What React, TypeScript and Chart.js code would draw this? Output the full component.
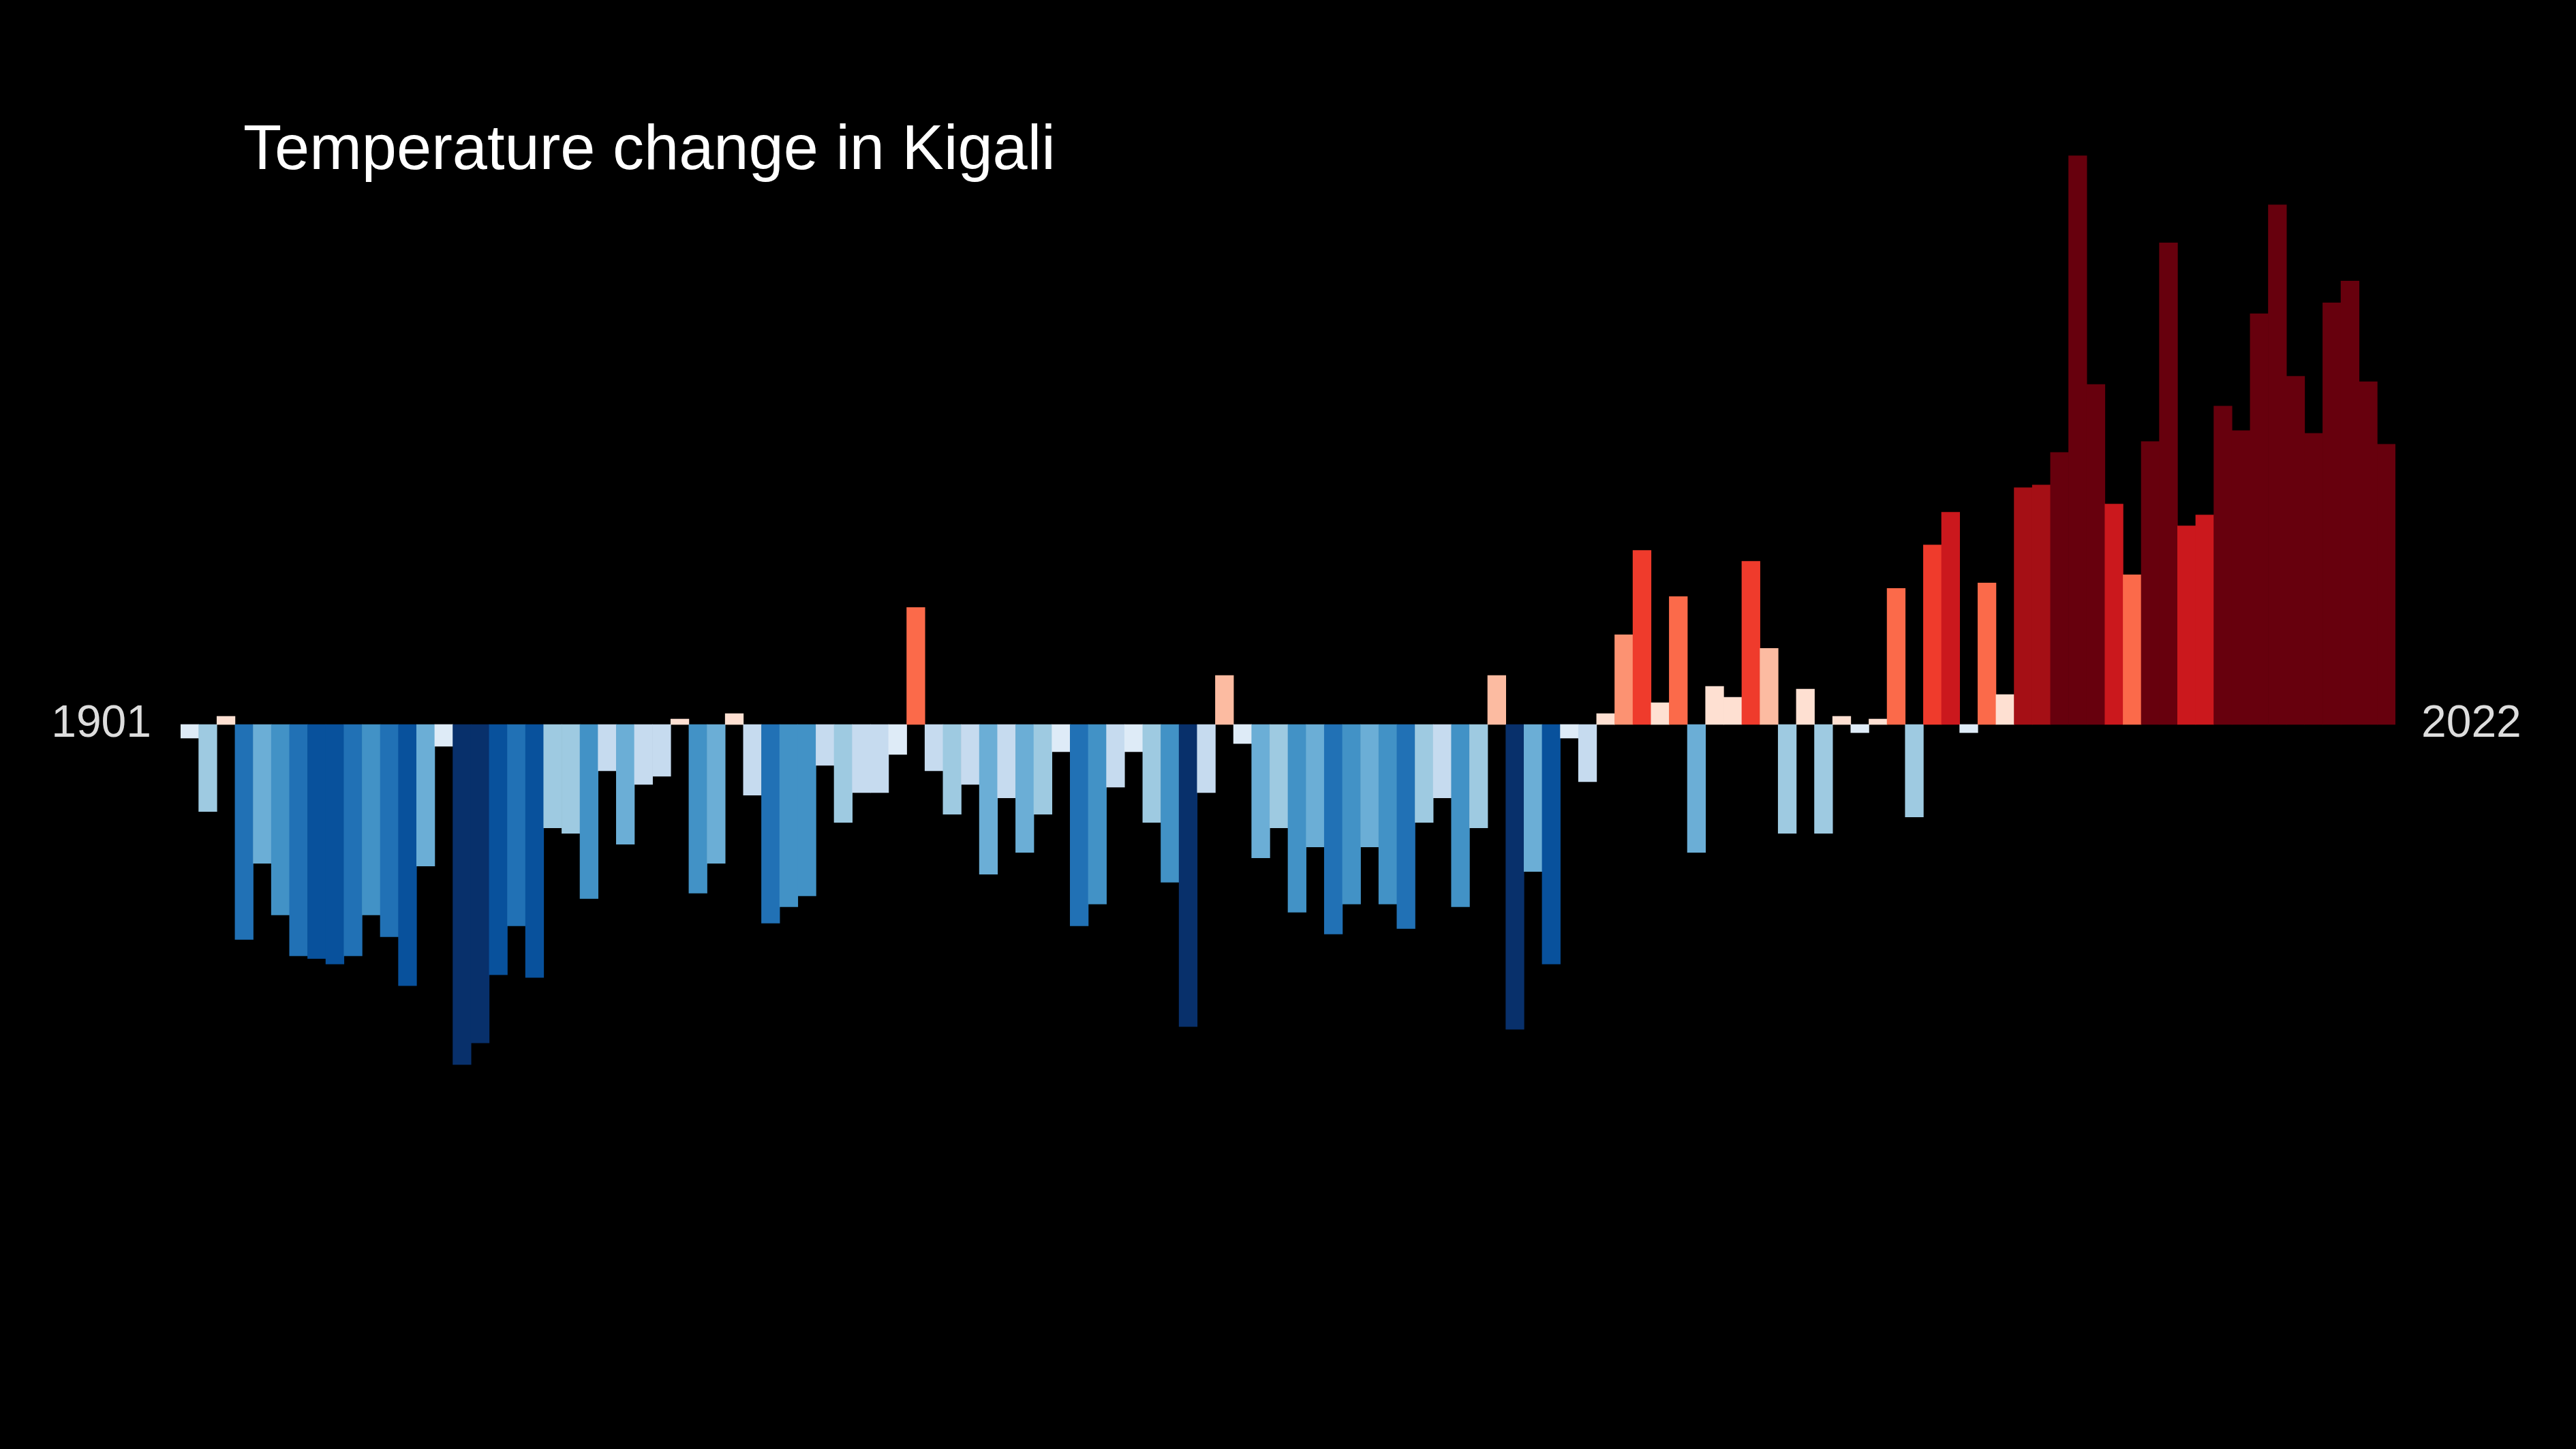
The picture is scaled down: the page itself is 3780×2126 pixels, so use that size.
import React, { useEffect, useRef } from "react";
import { Chart, registerables } from "chart.js";

Chart.register(...registerables);

const firstYear = 1901;
const lastYear = 2022;
const title = "Temperature change in Kigali";

// anomaly per year, °C
const anomalies = [
  -0.05, -0.32, 0.03, -0.79, -0.51, -0.7, -0.85, -0.86, -0.88, -0.85,
  -0.7, -0.78, -0.96, -0.52, -0.08, -1.25, -1.17, -0.92, -0.74, -0.93,
  -0.38, -0.4, -0.64, -0.17, -0.44, -0.22, -0.19, 0.02, -0.62, -0.51,
  0.04, -0.26, -0.73, -0.67, -0.63, -0.15, -0.36, -0.25, -0.25, -0.11,
  0.43, -0.17, -0.33, -0.22, -0.55, -0.27, -0.47, -0.33, -0.1, -0.74,
  -0.66, -0.23, -0.1, -0.36, -0.58, -1.11, -0.25, 0.18, -0.07, -0.49,
  -0.38, -0.69, -0.45, -0.77, -0.66, -0.45, -0.66, -0.75, -0.36, -0.27,
  -0.67, -0.38, 0.18, -1.12, -0.54, -0.88, -0.05, -0.21, 0.04, 0.33,
  0.64, 0.08, 0.47, -0.47, 0.14, 0.1, 0.6, 0.28, -0.4, 0.13,
  -0.4, 0.03, -0.03, 0.02, 0.5, -0.34, 0.66, 0.78, -0.03, 0.52,
  0.11, 0.87, 0.88, 1.0, 2.09, 1.25, 0.81, 0.55, 1.04, 1.77,
  0.73, 0.77, 1.17, 1.08, 1.51, 1.91, 1.28, 1.07, 1.55, 1.63,
  1.26, 1.03,
];

const years: string[] = [];
for (let y = firstYear; y <= lastYear; y++) years.push(String(y));

const blues = ["#08306b", "#08519c", "#2171b5", "#4292c6", "#6baed6", "#9ecae1", "#c6dbef", "#deebf7"];
const reds = ["#fee0d2", "#fcbba1", "#fc9272", "#fb6a4a", "#ef3b2c", "#cb181d", "#a50f15", "#67000d"];
const step = 0.142;

function colourFor(v: number) {
  if (v >= 0) return reds[Math.min(7, Math.floor(v / step))];
  return blues[Math.max(0, 7 - Math.floor(-v / step))];
}

const textPlugin = {
  id: "stripesText",
  beforeDraw(chart: Chart) {
    const { ctx, width, height } = chart;
    ctx.save();
    ctx.fillStyle = "#000";
    ctx.fillRect(0, 0, width, height);
    ctx.restore();
  },
  afterDraw(chart: Chart) {
    const { ctx } = chart;
    const yBase = chart.scales.y.getPixelForValue(0);
    ctx.save();
    ctx.fillStyle = "#fff";
    ctx.font = "92px 'Liberation Sans', Arial, sans-serif";
    ctx.textBaseline = "alphabetic";
    ctx.textAlign = "left";
    ctx.fillText(title, 357, 248);
    ctx.fillStyle = "#dddddd";
    ctx.font = "66px 'Liberation Sans', Arial, sans-serif";
    ctx.textBaseline = "middle";
    ctx.textAlign = "right";
    ctx.fillText(years[0], 222, yBase);
    ctx.textAlign = "left";
    ctx.fillText(years[years.length - 1], 3553, yBase);
    ctx.restore();
  },
};

const App = () => {
  const canvasRef = useRef<HTMLCanvasElement | null>(null);

  useEffect(() => {
    document.body.style.margin = "0";
    document.body.style.background = "#000";
    if (!canvasRef.current) return;
    const chart = new Chart(canvasRef.current, {
      type: "bar",
      data: {
        labels: years,
        datasets: [
          {
            data: anomalies,
            backgroundColor: anomalies.map(colourFor),
            barPercentage: 1,
            categoryPercentage: 1,
            borderWidth: 0,
          },
        ],
      },
      options: {
        animation: false,
        responsive: true,
        maintainAspectRatio: false,
        layout: { padding: { left: 265, right: 265, top: 65, bottom: 65 } },
        plugins: { legend: { display: false }, tooltip: { enabled: false }, title: { display: false } },
        scales: {
          x: { display: false },
          y: { display: false, min: -2.5, max: 2.5 },
        },
      },
      plugins: [textPlugin],
    });
    return () => chart.destroy();
  }, []);

  return (
    <div style={{ width: "100vw", height: "100vh", background: "#000" }}>
      <canvas ref={canvasRef} />
    </div>
  );
};

export default App;
